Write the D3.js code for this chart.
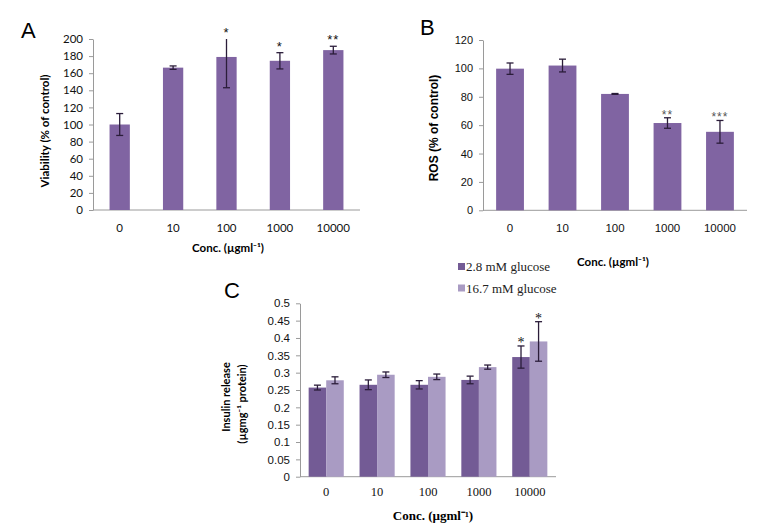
<!DOCTYPE html>
<html>
<head>
<meta charset="utf-8">
<script src="https://cdn.jsdelivr.net/npm/d3@7"></script>
<style>
html,body{margin:0;padding:0;background:#fff;}
svg{display:block;}
</style>
</head>
<body>
<script>
// ---------- data ----------
const categories = ["0", "10", "100", "1000", "10000"];

const viability = [100, 166.5, 179, 174.5, 187];
const viabilityErr = [12.8, 2, 36, 9.5, 4.5];
const viabilityStars = ["", "", "*", "*", "**"];
const viabilityTicks = [0, 20, 40, 60, 80, 100, 120, 140, 160, 180, 200];

const ros = [99.8, 102, 82, 61.5, 55.3];
const rosErr = [4, 4.5, 0.3, 3.7, 8];
const rosStars = ["", "", "", "**", "***"];
const rosTicks = [0, 20, 40, 60, 80, 100, 120];

const seriesNames = ["2.8 mM glucose", "16.7 mM glucose"];
const insulinLow = [0.257, 0.265, 0.265, 0.279, 0.345];
const insulinLowErr = [0.007, 0.014, 0.012, 0.011, 0.032];
const insulinHigh = [0.278, 0.294, 0.288, 0.316, 0.390];
const insulinHighErr = [0.010, 0.008, 0.008, 0.006, 0.057];
const insulinStarsLow = ["", "", "", "", "*"];
const insulinStarsHigh = ["", "", "", "", "*"];
const insulinTicks = [0, 0.05, 0.1, 0.15, 0.2, 0.25, 0.3, 0.35, 0.4, 0.45, 0.5];

// ---------- drawing ----------
const W = 771, H = 527;
const svg = d3.select("body").append("svg").attr("width", W).attr("height", H);

const barColor = "#8064a2";
const darkColor = "#735b95";
const lightColor = "#a99bc3";
const errColor = "#2b1d3a";
const axisColor = "#9a9a9a";

function drawAxes(g, x, y, ticks, fmt, tickFont, tickSize) {
  const ya = g.append("g").attr("transform", `translate(${x.range()[0]},0)`)
    .call(d3.axisLeft(y).tickValues(ticks).tickFormat(fmt).tickSize(4).tickSizeOuter(0).tickPadding(6));
  ya.select(".domain").attr("stroke", axisColor);
  ya.selectAll(".tick line").attr("stroke", axisColor);
  ya.selectAll("text").attr("font-family", tickFont).attr("font-size", tickSize).attr("fill", "#111");
  g.append("line")
    .attr("x1", x.range()[0]).attr("x2", x.range()[1])
    .attr("y1", y(0)).attr("y2", y(0))
    .attr("stroke", axisColor).attr("stroke-width", 1);
}

// error bar, clipped to the plot area like the original
function errBar(g, cx, y, v, e, cap) {
  const dmax = y.domain()[1];
  const clipped = v + e > dmax;
  const t = y(Math.min(v + e, dmax)), b = y(v - e);
  g.append("line").attr("x1", cx).attr("x2", cx).attr("y1", t).attr("y2", b)
    .attr("stroke", errColor).attr("stroke-width", 1.3);
  const caps = clipped ? [b] : [t, b];
  caps.forEach(yy => g.append("line").attr("x1", cx - cap).attr("x2", cx + cap)
    .attr("y1", yy).attr("y2", yy).attr("stroke", errColor).attr("stroke-width", 1.3));
  return t;
}

// ---------- Panel A ----------
{
  const g = svg.append("g");
  const x = d3.scaleBand().domain(categories).range([93, 360]).paddingInner(0.62).paddingOuter(0.31);
  const y = d3.scaleLinear().domain([0, 200]).range([210, 39]);
  drawAxes(g, x, y, viabilityTicks, d3.format("d"), "Lato", 11.5);
  g.selectAll("rect.bar").data(viability).join("rect")
    .attr("x", (d, i) => x(categories[i])).attr("width", x.bandwidth())
    .attr("y", d => y(d)).attr("height", d => y(0) - y(d)).attr("fill", barColor);
  viability.forEach((v, i) => {
    const cx = x(categories[i]) + x.bandwidth() / 2;
    const top = errBar(g, cx, y, v, viabilityErr[i], 3.5);
    if (viabilityStars[i]) g.append("text").attr("x", cx).attr("y", top - 2)
      .attr("text-anchor", "middle").attr("font-family", "Liberation Sans").attr("font-size", 13)
      .attr("fill", "#111").attr("letter-spacing", 1).text(viabilityStars[i]);
  });
  g.selectAll("text.xt").data(categories).join("text")
    .attr("x", d => x(d) + x.bandwidth() / 2).attr("y", 231.5)
    .attr("text-anchor", "middle").attr("font-family", "Lato").attr("font-size", 11.5).attr("fill", "#111")
    .text(d => d);
  g.append("text").attr("x", 228).attr("y", 252).attr("text-anchor", "middle")
    .attr("font-family", "Lato").attr("font-weight", "bold").attr("font-size", 11.5).text("Conc. (µgml⁻¹)");
  g.append("text").attr("transform", "translate(49,131) rotate(-90)").attr("text-anchor", "middle")
    .attr("font-family", "Lato").attr("font-weight", "bold").attr("font-size", 11.5).text("Viability (% of control)");
  g.append("text").attr("x", 21).attr("y", 38).attr("font-family", "Liberation Sans").attr("font-size", 22).text("A");
}

// ---------- Panel B ----------
{
  const g = svg.append("g");
  const x = d3.scaleBand().domain(categories).range([483, 747]).paddingInner(0.47).paddingOuter(0.25);
  const y = d3.scaleLinear().domain([0, 120]).range([210.3, 40]);
  drawAxes(g, x, y, rosTicks, d3.format("d"), "Liberation Sans", 11);
  g.selectAll("rect.bar").data(ros).join("rect")
    .attr("x", (d, i) => x(categories[i])).attr("width", x.bandwidth())
    .attr("y", d => y(d)).attr("height", d => y(0) - y(d)).attr("fill", barColor);
  ros.forEach((v, i) => {
    const cx = x(categories[i]) + x.bandwidth() / 2;
    const top = errBar(g, cx, y, v, rosErr[i], 3.5);
    if (rosStars[i]) g.append("text").attr("x", cx).attr("y", top + 1)
      .attr("text-anchor", "middle").attr("font-family", "Liberation Sans").attr("font-size", 12)
      .attr("fill", "#555").attr("letter-spacing", 1).text(rosStars[i]);
  });
  g.selectAll("text.xt").data(categories).join("text")
    .attr("x", d => x(d) + x.bandwidth() / 2).attr("y", 231.5)
    .attr("text-anchor", "middle").attr("font-family", "Liberation Sans").attr("font-size", 11.5).attr("fill", "#111")
    .text(d => d);
  g.append("text").attr("x", 613).attr("y", 266).attr("text-anchor", "middle")
    .attr("font-family", "Lato").attr("font-weight", "bold").attr("font-size", 11.5).text("Conc. (µgml⁻¹)");
  g.append("text").attr("transform", "translate(438,128) rotate(-90)").attr("text-anchor", "middle")
    .attr("font-family", "Liberation Sans").attr("font-weight", "bold").attr("font-size", 12).text("ROS (% of control)");
  g.append("text").attr("x", 420).attr("y", 35).attr("font-family", "Liberation Sans").attr("font-size", 22).text("B");
}

// ---------- Panel C ----------
{
  const g = svg.append("g");
  const x = d3.scaleBand().domain(categories).range([300, 556]).paddingInner(0.31).paddingOuter(0.17);
  const x1 = d3.scaleBand().domain([0, 1]).range([0, x.bandwidth()]);
  const y = d3.scaleLinear().domain([0, 0.5]).range([476.7, 303.3]);
  drawAxes(g, x, y, insulinTicks, d => d === 0 ? "0" : String(+d.toFixed(2)), "Liberation Sans", 11.5);
  const series = [
    {vals: insulinLow, errs: insulinLowErr, stars: insulinStarsLow, color: darkColor},
    {vals: insulinHigh, errs: insulinHighErr, stars: insulinStarsHigh, color: lightColor}
  ];
  series.forEach((s, si) => {
    g.selectAll(`rect.s${si}`).data(s.vals).join("rect").attr("class", `s${si}`)
      .attr("x", (d, i) => x(categories[i]) + x1(si)).attr("width", x1.bandwidth())
      .attr("y", d => y(d)).attr("height", d => y(0) - y(d)).attr("fill", s.color);
    s.vals.forEach((v, i) => {
      const cx = x(categories[i]) + x1(si) + x1.bandwidth() / 2;
      const top = errBar(g, cx, y, v, s.errs[i], 3.5);
      if (s.stars[i]) g.append("text").attr("x", cx).attr("y", top + 1)
        .attr("text-anchor", "middle").attr("font-family", "Liberation Serif").attr("font-size", 14)
        .attr("fill", "#111").text(s.stars[i]);
    });
  });
  g.selectAll("text.xt").data(categories).join("text")
    .attr("x", d => x(d) + x.bandwidth() / 2).attr("y", 495.5)
    .attr("text-anchor", "middle").attr("font-family", "Liberation Serif").attr("font-size", 12.5).attr("fill", "#111")
    .text(d => d);
  g.append("text").attr("x", 433).attr("y", 519.5).attr("text-anchor", "middle")
    .attr("font-family", "Liberation Serif").attr("font-weight", "bold").attr("font-size", 13).text("Conc. (µgml⁻¹)");
  g.append("text").attr("transform", "translate(230,397) rotate(-90)").attr("text-anchor", "middle")
    .attr("font-family", "Lato").attr("font-weight", "bold").attr("font-size", 11).text("Insulin release");
  g.append("text").attr("transform", "translate(246,404) rotate(-90)").attr("text-anchor", "middle")
    .attr("font-family", "Lato").attr("font-weight", "bold").attr("font-size", 11).text("(µgmg⁻¹ protein)");
  g.append("text").attr("x", 224).attr("y", 298).attr("font-family", "Liberation Sans").attr("font-size", 22).text("C");

  // legend
  const lg = g.append("g");
  seriesNames.forEach((n, i) => {
    const yy = 263 + i * 21.5;
    lg.append("rect").attr("x", 458).attr("y", yy).attr("width", 7).attr("height", 7)
      .attr("fill", series[i].color);
    lg.append("text").attr("x", 466).attr("y", yy + 8).attr("font-family", "Liberation Serif")
      .attr("font-size", 13).attr("fill", "#222").text(n);
  });
}
</script>
</body>
</html>
